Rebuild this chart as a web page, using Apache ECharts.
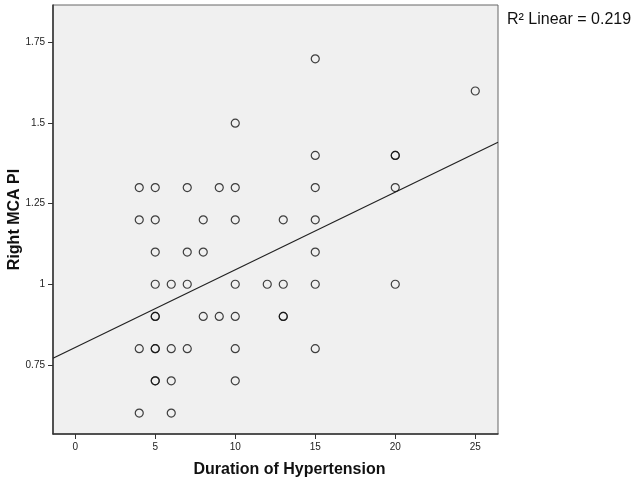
<!DOCTYPE html>
<html>
<head>
<meta charset="utf-8">
<script src="https://cdn.jsdelivr.net/npm/echarts@6/dist/echarts.min.js"></script>
<style>
  html, body { margin: 0; padding: 0; background: #fff; }
  #chart { width: 638px; height: 483px; }
</style>
</head>
<body>
<div id="chart"></div>
<script>
// duration of hypertension (years) and right MCA PI
var durations = [15, 25, 10, 15, 20, 20,
  4, 5, 7, 9, 10, 15, 20,
  4, 5, 8, 10, 13, 15,
  5, 7, 8, 15,
  5, 6, 7, 10, 12, 13, 15, 20,
  5, 5, 8, 9, 10, 13, 13,
  4, 5, 5, 6, 7, 10, 15,
  5, 5, 6, 10,
  4, 6]
var mcaPI = [1.7, 1.6, 1.5, 1.4, 1.4, 1.4,
  1.3, 1.3, 1.3, 1.3, 1.3, 1.3, 1.3,
  1.2, 1.2, 1.2, 1.2, 1.2, 1.2,
  1.1, 1.1, 1.1, 1.1,
  1.0, 1.0, 1.0, 1.0, 1.0, 1.0, 1.0, 1.0,
  0.9, 0.9, 0.9, 0.9, 0.9, 0.9, 0.9,
  0.8, 0.8, 0.8, 0.8, 0.8, 0.8, 0.8,
  0.7, 0.7, 0.7, 0.7,
  0.6, 0.6]
// fitted line ends (x, y) at the plot edges
var fitLine = [[-1.39, 0.77], [26.42, 1.441]]
var xTicks = [0, 5, 10, 15, 20, 25]
var yTicks = [0.75, 1, 1.25, 1.5, 1.75]

var points = durations.map(function (d, i) { return [d, mcaPI[i]] })

var chart = echarts.init(document.getElementById('chart'))
chart.setOption({
  animation: false,
  textStyle: { fontFamily: 'Liberation Sans, Arial, sans-serif' },
  grid: {
    left: 53, top: 5, right: 140, bottom: 49,
    outerBoundsMode: 'none',
    containLabel: false,
    show: true,
    backgroundColor: '#f0f0f0',
    borderColor: '#666',
    borderWidth: 1
  },
  xAxis: {
    type: 'value',
    min: -1.39,
    max: 26.42,
    name: 'Duration of Hypertension',
    nameLocation: 'middle',
    nameGap: 28,
    nameMoveOverlap: false,
    nameTextStyle: { fontSize: 16, fontWeight: 'bold', color: '#111', padding: [0, 0, 0, 28] },
    axisLine: { show: true, onZero: false, lineStyle: { color: '#333', width: 1.5 } },
    axisTick: { show: true, length: 5, customValues: xTicks, lineStyle: { color: '#333' } },
    axisLabel: { customValues: xTicks, fontSize: 10, color: '#222', margin: 8 },
    splitLine: { show: false }
  },
  yAxis: {
    type: 'value',
    min: 0.535,
    max: 1.867,
    name: 'Right MCA PI',
    nameLocation: 'middle',
    nameGap: 30,
    nameMoveOverlap: false,
    nameTextStyle: { fontSize: 16, fontWeight: 'bold', color: '#111' },
    axisLine: { show: true, onZero: false, lineStyle: { color: '#333', width: 1.5 } },
    axisTick: { show: true, length: 5, customValues: yTicks, lineStyle: { color: '#333' } },
    axisLabel: { customValues: yTicks, fontSize: 10, color: '#222', margin: 8 },
    splitLine: { show: false }
  },
  graphic: [{
    type: 'text',
    left: 507,
    top: 12,
    style: { text: 'R² Linear = 0.219', fontSize: 16, fill: '#111', fontFamily: 'Liberation Sans, Arial, sans-serif' }
  }],
  series: [
    {
      type: 'line',
      data: fitLine,
      symbol: 'none',
      lineStyle: { color: '#222', width: 1.2 },
      z: 2
    },
    {
      type: 'scatter',
      data: points,
      symbol: 'circle',
      symbolSize: 8,
      itemStyle: { color: 'rgba(0,0,0,0)', borderColor: '#111', borderWidth: 1.2 },
      z: 3
    }
  ]
})
</script>
</body>
</html>
